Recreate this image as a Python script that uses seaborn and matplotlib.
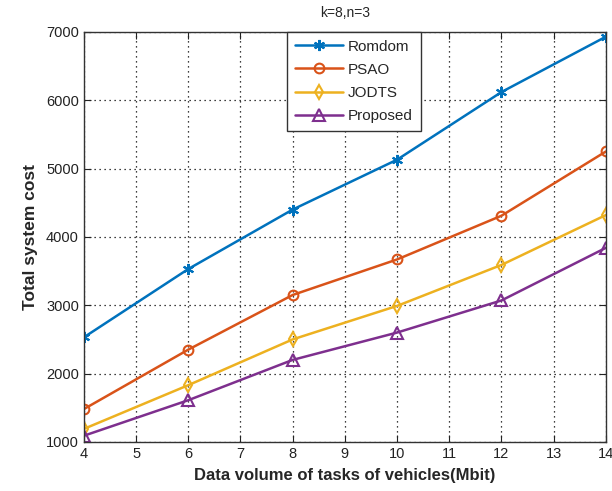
import pandas as pd
import matplotlib
matplotlib.use('Agg')
import matplotlib.pyplot as plt
import seaborn as sns

# Dados
data_volume = [4, 6, 8, 10, 12, 14]
romdom = [2530, 3530, 4400, 5130, 6120, 6930]
psao = [1480, 2350, 3150, 3670, 4310, 5250]
jodts = [1190, 1830, 2500, 2990, 3590, 4320]
proposed = [1090, 1610, 2200, 2600, 3070, 3840]

series_names = ['Romdom', 'PSAO', 'JODTS', 'Proposed']
series_values = [romdom, psao, jodts, proposed]
cores = ['#0072BD', '#D95319', '#EDB120', '#7E2F8E']
marcadores = [(6, 2, 0), 'o', 'd', '^']
tamanhos = [8, 7, 7, 8]

sns.set_style('ticks')
plt.rcParams['font.family'] = ['Liberation Sans', 'DejaVu Sans']

fig = plt.figure(figsize=(6.12, 4.91), dpi=100)
ax = fig.add_axes([0.137, 0.100, 0.853, 0.835])

for nome, valores, cor, mk, ms in zip(series_names, series_values, cores, marcadores, tamanhos):
    df = pd.DataFrame({'x': data_volume, 'y': valores})
    sns.lineplot(data=df, x='x', y='y', ax=ax, color=cor, marker=mk, markersize=ms,
                 markerfacecolor='none', markeredgecolor=cor, markeredgewidth=1.5,
                 linewidth=1.8, label=nome)

ax.set_xlim(4, 14)
ax.set_ylim(1000, 7000)
ax.set_xticks(range(4, 15))
ax.set_yticks(range(1000, 7001, 1000))
ax.grid(True, linestyle=(0, (1, 3)), color='black', linewidth=0.9)
ax.tick_params(direction='in', top=True, right=True, labelsize=10.5, length=5, colors='#222222')
for s in ax.spines.values():
    s.set_color('#333333')
    s.set_linewidth(1.0)

ax.set_title('k=8,n=3', fontsize=10, pad=11)
ax.set_xlabel('Data volume of tasks of vehicles(Mbit)', fontsize=12, fontweight='bold', labelpad=5)
ax.set_ylabel('Total system cost', fontsize=12.5, fontweight='bold', labelpad=6)

leg = ax.legend(loc='upper center', bbox_to_anchor=(0.517, 1.0), borderaxespad=0,
                fontsize=11, handlelength=3.2, fancybox=False, framealpha=1,
                edgecolor='#333333', borderpad=0.5, labelspacing=0.6, handletextpad=0.3)
leg.get_frame().set_linewidth(1.0)

fig.savefig('out.png', dpi=100)
